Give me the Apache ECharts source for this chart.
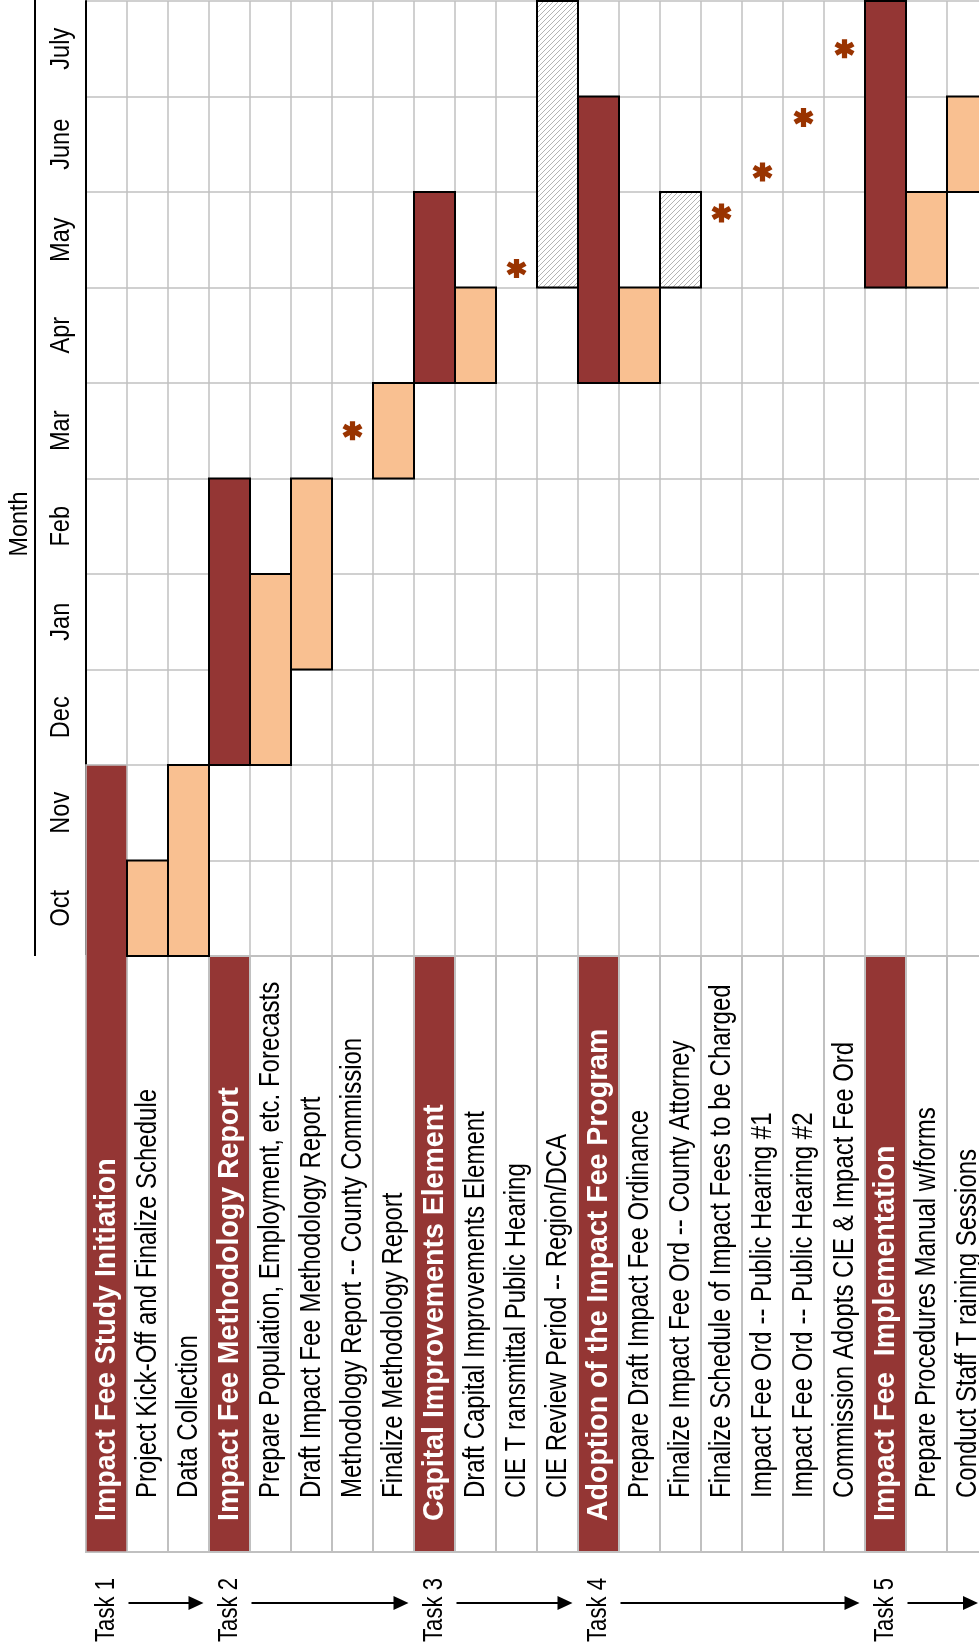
<!DOCTYPE html>
<html><head><meta charset="utf-8">
<script src="https://cdn.jsdelivr.net/npm/echarts@6/dist/echarts.min.js"></script>
<style>html,body{margin:0;padding:0;background:#fff}#c{width:979px;height:1652px}</style>
</head><body><div id="c"></div>
<script>
// ---------- data ----------
const rows = [
  'Impact Fee Study Initiation',
  'Project Kick-Off and Finalize Schedule',
  'Data Collection',
  'Impact Fee Methodology Report',
  'Prepare Population, Employment, etc. Forecasts',
  'Draft Impact Fee Methodology Report',
  'Methodology Report -- County Commission',
  'Finalize Methodology Report',
  'Capital Improvements Element',
  'Draft Capital Improvements Element',
  'CIE T ransmittal Public Hearing',
  'CIE Review Period -- Region/DCA',
  'Adoption of the Impact Fee Program',
  'Prepare Draft Impact Fee Ordinance',
  'Finalize Impact Fee Ord -- County Attorney',
  'Finalize Schedule of Impact Fees to be Charged',
  'Impact Fee Ord -- Public Hearing #1',
  'Impact Fee Ord -- Public Hearing #2',
  'Commission Adopts CIE & Impact Fee Ord',
  'Impact Fee  Implementation',
  'Prepare Procedures Manual w/forms',
  'Conduct Staff T raining Sessions'
];
const months = ['Oct','Nov','Dec','Jan','Feb','Mar','Apr','May','June','July'];
const headerRows = [0, 3, 8, 12, 19];
// [row, startMonth, endMonth]  (0 = start of Oct)
const headerBars = [[0,0,2],[3,2,5],[8,6,8],[12,6,9],[19,7,10]];
const taskBars = [[1,0,1],[2,0,2],[4,2,4],[5,3,5],[7,5,6],[9,6,7],[13,6,7],[20,7,8],[21,8,9]];
const hatchBars = [[11,7,10],[14,7,8]];
// [row, month position]
const milestones = [[6,5.5],[10,7.2],[15,7.78],[16,8.21],[17,8.78],[18,9.5]];
const taskLabels = ['Task 1','Task 2','Task 3','Task 4','Task 5'];
const taskCols = [0, 3, 8, 12, 19];

// ---------- style / layout ----------
const DARK = '#943634', ORANGE = '#F9C091', GRID = '#C0C0C0', STAR = '#993300';
const LABEL_BOTTOM = 1552;
const FONT = '"Liberation Sans", Arial, Helvetica, sans-serif';

const pat = document.createElement('canvas');
pat.width = 5; pat.height = 5;
(function(){
  const g = pat.getContext('2d');
  g.fillStyle = '#fff'; g.fillRect(0,0,5,5);
  g.strokeStyle = '#b4b4b4'; g.lineWidth = 1;
  g.beginPath();
  g.moveTo(0,5); g.lineTo(5,0);
  g.moveTo(-1,1); g.lineTo(1,-1);
  g.moveTo(4,6); g.lineTo(6,4);
  g.stroke();
})();

function asteriskPath(){
  const L = 10, W = 2.6; let d = '';
  [90, 30, -30].forEach(a => {
    const r = a*Math.PI/180, c = Math.cos(r), s = Math.sin(r);
    const pts = [[-L,-W],[L,-W],[L,W],[-L,W]].map(([u,v]) => [u*c - v*s, u*s + v*c]);
    d += 'M' + pts.map(p => p[0].toFixed(3)+','+p[1].toFixed(3)).join('L') + 'Z';
  });
  return 'path://' + d;
}

function rectItem(kind){
  return function(params, api){
    const r = api.value(0), s = api.value(1), e = api.value(2);
    const p0 = api.coord([r, s]), p1 = api.coord([r, e]);
    const w = api.size([1, 0])[0];
    const merged = kind === 'header' && s === 0;
    const bottom = merged ? LABEL_BOTTOM : p0[1];
    let fill = kind === 'header' ? DARK : (kind === 'hatch' ? {image: pat, repeat: 'repeat'} : ORANGE);
    return {
      type: 'rect',
      shape: {x: p0[0] - w/2, y: p1[1], width: w, height: bottom - p1[1]},
      style: {fill: fill, stroke: merged ? GRID : '#000', lineWidth: merged ? 1.5 : 2}
    };
  };
}

const chart = echarts.init(document.getElementById('c'), null, {renderer: 'canvas'});
chart.setOption({
  animation: false,
  backgroundColor: '#fff',
  grid: {left: 86, top: 1, width: 902, height: 955, containLabel: false, outerBoundsMode: 'none'},
  xAxis: {
    type: 'category', data: rows, position: 'top', boundaryGap: true,
    axisLine: {show: true, lineStyle: {color: '#000', width: 2}},
    axisTick: {show: false}, axisLabel: {show: false},
    splitLine: {show: true, interval: 0, lineStyle: {color: GRID, width: 1.5}}
  },
  yAxis: {
    type: 'value', min: 0, max: 10, interval: 1,
    axisLine: {show: true, lineStyle: {color: '#000', width: 2}},
    axisTick: {show: false}, axisLabel: {show: false},
    splitLine: {show: true, lineStyle: {color: GRID, width: 1.5}}
  },
  graphic: [
    {type: 'line', shape: {x1: 35, y1: 0, x2: 35, y2: 956}, style: {stroke: '#000', lineWidth: 2}},
    {type: 'text', x: 20, y: 524, rotation: Math.PI/2, scaleX: 0.9,
     style: {text: 'Month', font: '26px ' + FONT, fill: '#000', align: 'center', verticalAlign: 'middle'}}
  ],
  series: [
    { // label cells
      type: 'custom', clip: false, z: 2,
      data: rows.map((_, i) => [i, 0]),
      renderItem(params, api){
        const i = params.dataIndex;
        const c = api.coord([i, 0]);
        const w = api.size([1, 0])[0];
        const hdr = headerRows.indexOf(i) >= 0;
        return {type: 'rect', shape: {x: c[0]-w/2, y: c[1], width: w, height: LABEL_BOTTOM - c[1]},
                style: {fill: hdr ? DARK : '#fff', stroke: GRID, lineWidth: 2}};
      }
    },
    {type: 'custom', clip: false, z: 3, data: headerBars, encode: {x: 0, y: [1, 2]}, renderItem: rectItem('header')},
    {type: 'custom', clip: false, z: 3, data: taskBars, encode: {x: 0, y: [1, 2]}, renderItem: rectItem('task')},
    {type: 'custom', clip: false, z: 3, data: hatchBars, encode: {x: 0, y: [1, 2]}, renderItem: rectItem('hatch')},
    { // row labels
      type: 'custom', clip: false, z: 5,
      data: rows.map((_, i) => [i, 0]),
      renderItem(params, api){
        const i = params.dataIndex;
        const c = api.coord([i, 0]);
        const hdr = headerRows.indexOf(i) >= 0;
        return {type: 'text', x: c[0], y: hdr ? LABEL_BOTTOM - 31 : LABEL_BOTTOM - 54,
                rotation: Math.PI/2, scaleX: hdr ? 0.95 : 0.8,
                style: {text: rows[i], fill: hdr ? '#fff' : '#000',
                        font: (hdr ? 'bold ' : '') + '30px ' + FONT, align: 'left', verticalAlign: 'middle'}};
      }
    },
    {
      type: 'scatter', z: 6, data: milestones, symbol: asteriskPath(), symbolSize: [20, 19],
      itemStyle: {color: STAR, opacity: 1}
    },
    { // month labels
      type: 'custom', clip: false, z: 5,
      data: months.map((_, i) => [0, i + 0.5]),
      renderItem(params, api){
        const c = api.coord([0, api.value(1)]);
        return {type: 'text', x: 61, y: c[1], rotation: Math.PI/2, scaleX: 0.84,
                style: {text: months[params.dataIndex], fill: '#000', font: '28px ' + FONT,
                        align: 'center', verticalAlign: 'middle'}};
      }
    },
    { // task labels + arrows
      type: 'custom', clip: false, z: 5,
      data: taskCols.map(c => [c, 0]),
      renderItem(params, api){
        const i = params.dataIndex;
        const col = taskCols[i];
        const nextCol = i + 1 < taskCols.length ? taskCols[i + 1] : rows.length;
        const w = api.size([1, 0])[0];
        const cx = api.coord([col, 0])[0];
        const nx = cx + (nextCol - col) * w;
        const y = 1610, ay = 1603;
        const x1 = cx + 22, x2 = Math.min(nx - 26, 978);
        return {type: 'group', children: [
          {type: 'text', x: cx, y: y, rotation: Math.PI/2, scaleX: 0.79,
           style: {text: taskLabels[i], fill: '#000', font: '28px ' + FONT, align: 'center', verticalAlign: 'middle'}},
          {type: 'line', shape: {x1: x1, y1: ay, x2: x2 - 12, y2: ay}, style: {stroke: '#000', lineWidth: 2}},
          {type: 'polygon', shape: {points: [[x2 - 15, ay - 7], [x2, ay], [x2 - 15, ay + 7]]}, style: {fill: '#000'}}
        ]};
      }
    }
  ]
});
</script>
</body></html>
